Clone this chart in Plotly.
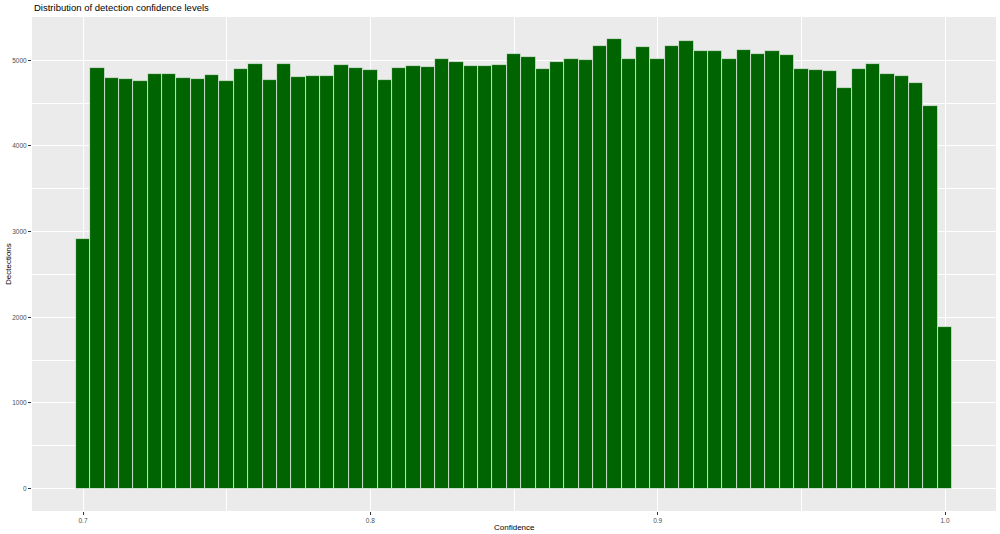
import plotly.graph_objects as go

bin_width = 0.005
bin_centers = [round(0.700 + i * bin_width, 3) for i in range(61)]
counts = [
    2912, 4912, 4799, 4784, 4756, 4842, 4842, 4799, 4780, 4826,
    4760, 4901, 4963, 4772, 4963, 4807, 4822, 4815, 4947, 4916,
    4885, 4775, 4912, 4939, 4928, 5013, 4975, 4939, 4939, 4951,
    5076, 5041, 4897, 4979, 5021, 5006, 5170, 5244, 5018, 5154,
    5018, 5162, 5224, 5111, 5104, 5021, 5123, 5080, 5111, 5068,
    4904, 4885, 4873, 4682, 4901, 4955, 4842, 4822, 4737, 4464,
    1887,
]
x_ticks = [0.7, 0.8, 0.9, 1.0]
x_tick_labels = ["0.7", "0.8", "0.9", "1.0"]
y_ticks = [0, 1000, 2000, 3000, 4000, 5000]

title_text = "Distribution of detection confidence levels"
x_title = "Confidence"
y_title = "Dectections"

fig = go.Figure()
fig.add_trace(go.Bar(
    x=bin_centers, y=counts, width=bin_width,
    marker=dict(color="#006400", line=dict(color="rgba(255,255,255,0.8)", width=0.8)),
    hoverinfo="x+y",
))

xmin = bin_centers[0] - bin_width / 2
xmax = bin_centers[-1] + bin_width / 2
xpad = (xmax - xmin) * 0.05
ymax = max(counts)
ypad = ymax * 0.05

font_family = "Liberation Sans, Arial, sans-serif"

fig.update_layout(
    width=1000, height=534,
    margin=dict(l=32, r=4, t=17, b=23, autoexpand=False),
    paper_bgcolor="white",
    plot_bgcolor="#EBEBEB",
    showlegend=False,
    bargap=0,
    font=dict(family=font_family, size=7, color="#4D4D4D"),
    xaxis=dict(
        automargin=False,
        range=[xmin - xpad, xmax + xpad],
        tickvals=x_ticks, ticktext=x_tick_labels,
        ticks="outside", ticklen=3, tickwidth=0.8, tickcolor="#333333",
        tickfont=dict(size=6.5, color="#4D4D4D"),
        showgrid=True, gridcolor="white", gridwidth=1.1,
        minor=dict(tickvals=[0.75, 0.85, 0.95], showgrid=True, gridcolor="white", gridwidth=0.5, ticks=""),
        zeroline=False, showline=False,
    ),
    yaxis=dict(
        automargin=False,
        range=[-ypad, ymax + ypad],
        tickvals=y_ticks,
        ticks="outside", ticklen=3, tickwidth=0.8, tickcolor="#333333",
        tickfont=dict(size=6.5, color="#4D4D4D"),
        showgrid=True, gridcolor="white", gridwidth=1.1,
        minor=dict(tickvals=[500, 1500, 2500, 3500, 4500], showgrid=True, gridcolor="white", gridwidth=0.5, ticks=""),
        zeroline=False, showline=False,
    ),
    annotations=[
        dict(text=title_text, xref="paper", yref="paper", x=0, y=1, xanchor="left", yanchor="bottom",
             yshift=2, showarrow=False, font=dict(size=9.5, color="black", family=font_family)),
        dict(text=x_title, xref="paper", yref="paper", x=0.5, y=0, xanchor="center", yanchor="top",
             yshift=-10, showarrow=False, font=dict(size=8, color="black", family=font_family)),
        dict(text=y_title, xref="paper", yref="paper", x=0, y=0.5, xanchor="center", yanchor="middle",
             xshift=-24, textangle=-90, showarrow=False, font=dict(size=8, color="black", family=font_family)),
    ],
)

fig.write_html(
    "out.html",
    config={"displayModeBar": False},
    post_script="document.body.style.margin='0';document.body.style.overflow='hidden';",
)
